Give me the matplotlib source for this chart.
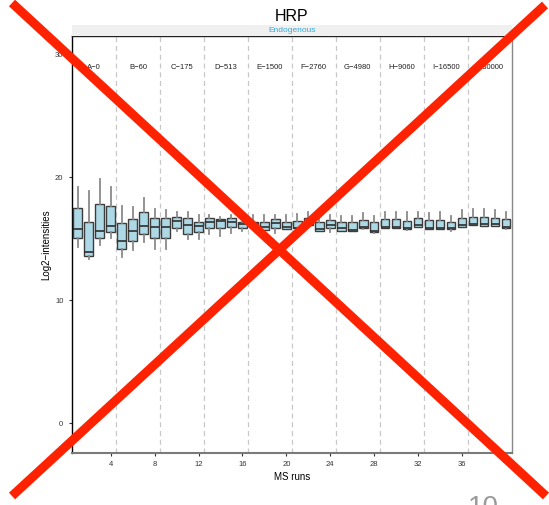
import numpy as np
import matplotlib
matplotlib.use('Agg')
import matplotlib.pyplot as plt
from matplotlib.patches import Rectangle
from matplotlib.lines import Line2D

plt.rcParams['font.family'] = ['Liberation Sans', 'DejaVu Sans']

# run order and log2 intensity summaries per MS run
runs = np.arange(1, 41)
whislo = [14.31, 13.33, 14.47, 15.04, 13.50, 14.09, 14.76, 14.15, 14.17, 15.63,
          14.98, 14.98, 15.39, 15.25, 15.45, 15.66, 15.80, 15.70, 15.45, 15.78,
          15.85, 16.05, 15.60, 15.53, 15.62, 15.60, 15.82, 15.45, 15.88, 15.88,
          15.75, 15.97, 15.80, 15.80, 15.66, 15.97, 16.10, 16.05, 16.05, 15.83]
q1 = [15.04, 13.63, 15.04, 15.55, 14.15, 14.85, 15.39, 15.04, 15.04, 15.85,
      15.37, 15.58, 15.90, 15.90, 15.93, 15.90, 15.99, 15.72, 15.90, 15.80,
      15.88, 16.12, 15.66, 15.85, 15.66, 15.63, 15.85, 15.58, 15.90, 15.90,
      15.77, 15.99, 15.82, 15.82, 15.77, 15.99, 16.12, 16.07, 16.07, 15.85]
med = [15.82, 13.95, 15.66, 16.07, 14.82, 15.61, 16.04, 15.98, 15.93, 16.45,
       16.12, 16.07, 16.34, 16.47, 16.39, 16.18, 16.26, 15.93, 16.26, 15.99,
       15.92, 16.40, 15.77, 16.15, 15.85, 15.70, 15.95, 15.62, 16.00, 16.00,
       15.85, 16.10, 15.92, 15.92, 15.85, 16.10, 16.22, 16.17, 16.17, 15.95]
q3 = [17.47, 16.39, 17.80, 17.67, 16.26, 16.59, 17.15, 16.72, 16.67, 16.77,
      16.67, 16.39, 16.67, 16.59, 16.67, 16.39, 16.39, 16.34, 16.59, 16.37,
      16.47, 16.72, 16.34, 16.53, 16.34, 16.34, 16.51, 16.34, 16.59, 16.59,
      16.47, 16.67, 16.51, 16.53, 16.39, 16.67, 16.80, 16.75, 16.72, 16.59]
whishi = [19.24, 18.91, 19.86, 19.24, 17.67, 17.56, 18.29, 17.42, 17.34, 17.15,
          17.20, 16.93, 16.93, 16.75, 16.93, 16.61, 16.93, 16.93, 16.93, 16.93,
          17.02, 17.20, 16.93, 16.93, 16.88, 16.88, 17.07, 16.88, 17.20, 17.15,
          17.15, 17.20, 17.12, 17.20, 16.88, 17.34, 17.42, 17.42, 17.34, 17.15]

conditions = ['A-0', 'B-60', 'C-175', 'D-513', 'E-1500',
              'F-2760', 'G-4980', 'H-9060', 'I-16500', 'J-30000']
xtick_labels = ['4', '8', '12', '16', '20', '24', '28', '32', '36', '']

fig = plt.figure(figsize=(5.49, 5.05), dpi=100)
ax = fig.add_axes([0.1306, 0.103, 0.802, 0.8257])

stats = [dict(whislo=a, q1=b, med=c, q3=d, whishi=e, fliers=[])
         for a, b, c, d, e in zip(whislo, q1, med, q3, whishi)]
ax.bxp(stats, positions=runs, widths=0.78, patch_artist=True, showcaps=False,
       manage_ticks=False,
       boxprops=dict(facecolor='#add8e6', edgecolor='#3d3d3d', linewidth=1.0),
       medianprops=dict(color='#2e2e2e', linewidth=1.2),
       whiskerprops=dict(color='#8a8a8a', linewidth=1.3),
       zorder=3)

# separators between concentration groups
for b in np.arange(4.5, 40, 4):
    ax.axvline(b, color='#c8c8c8', ls=(0, (4, 3)), lw=0.9, zorder=1)

for i, lab in enumerate(conditions):
    ax.text(2.5 + 4 * i, 28.9, lab.replace('-', '\u2212'), ha='center', va='center',
            fontsize=5.5, color='#222222')

ax.set_xlim(0.45, 40.55)
ax.set_ylim(-2.41, 31.49)
ax.set_xticks(np.arange(4, 41, 4))
ax.set_xticklabels(xtick_labels)
ax.set_yticks([0, 10, 20, 30])
ax.tick_params(labelsize=5.5, length=2.5, width=0.8, color='#333333', labelcolor='#333333')
ax.set_xlabel('MS runs', fontsize=7, labelpad=3)
ax.set_ylabel('Log2\u2212intensities', fontsize=7, labelpad=3)

ax.spines['left'].set_color('black')
ax.spines['top'].set_color('#222222')
ax.spines['right'].set_color('#888888')
ax.spines['bottom'].set_color('#7a7a7a')
for s in ax.spines.values():
    s.set_linewidth(1.0)
ax.spines['bottom'].set_linewidth(1.5)

# facet strip
fig.patches.append(Rectangle((0.1306, 0.9287), 0.802, 0.0218, transform=fig.transFigure,
                             facecolor='#f0f0f0', edgecolor='none', zorder=0))
fig.text(0.5316, 0.9396, 'Endogenous', ha='center', va='center', fontsize=6, color='#33aadd')
fig.text(0.5316, 0.968, 'HRP', ha='center', va='center', fontsize=11.5, color='black')

# slide number, partly cut off
fig.text(0.853, 0.020, '10', ha='left', va='top', fontsize=20, color='#9a9a9a')

# crossed out
W, H = 549.0, 505.0
for (x0, y0), (x1, y1) in [((12, 3), (546, 496)), ((12, 496), (545, 5))]:
    fig.lines.append(Line2D([x0 / W, x1 / W], [1 - y0 / H, 1 - y1 / H],
                            transform=fig.transFigure, color='#ff2200', lw=6.5,
                            solid_capstyle='butt', zorder=10))

fig.savefig('out.png', dpi=100)
